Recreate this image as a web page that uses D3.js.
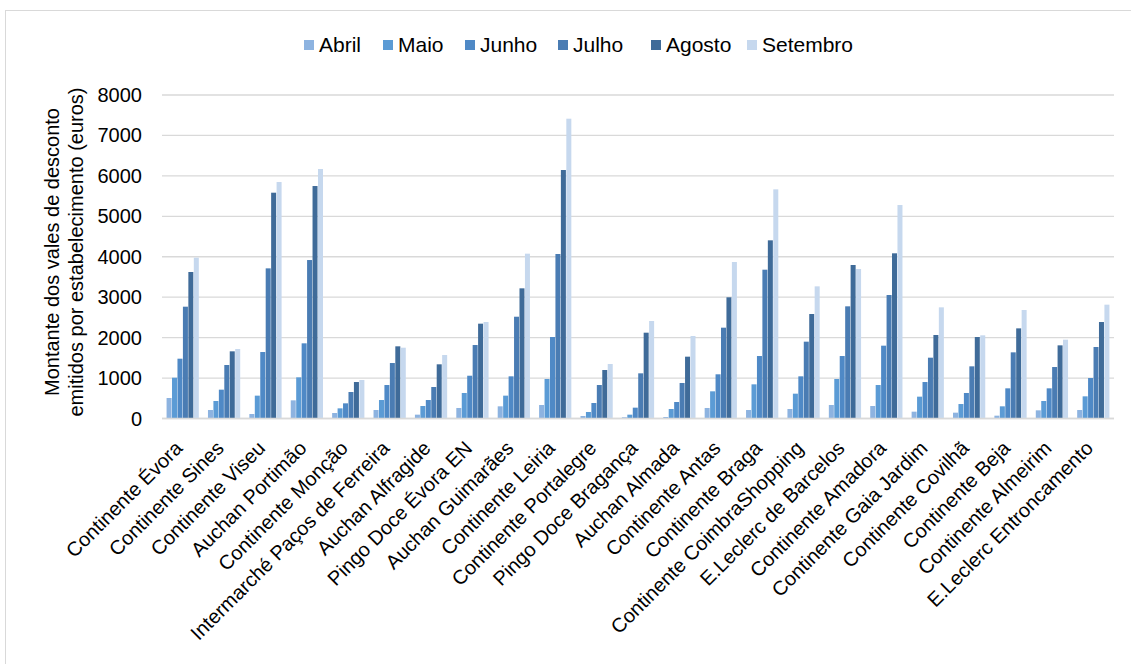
<!DOCTYPE html>
<html lang="pt">
<head>
    <meta charset="UTF-8">
    <title>Vales de desconto</title>
    <style>
        body { margin: 0; background: #fff; }
        svg { font-family: "Liberation Sans", Arial, sans-serif; }
        .grid line { stroke: #d9d9d9; stroke-width: 1.3px; }
        .tick-label { font-size: 20px; fill: #000; }
        .axis-title { font-size: 20px; fill: #000; }
        .cat-label { font-size: 20px; fill: #000; }
        .legend-label { font-size: 21px; fill: #000; }
    </style>
</head>
<body>
    <script src="https://d3js.org/d3.v7.min.js"></script>
    <script>
        const categories = [
            "Continente Évora", "Continente Sines", "Continente Viseu", "Auchan Portimão",
            "Continente Monção", "Intermarché Paços de Ferreira", "Auchan Alfragide",
            "Pingo Doce Évora EN", "Auchan Guimarães", "Continente Leiria",
            "Continente Portalegre", "Pingo Doce Bragança", "Auchan Almada",
            "Continente Antas", "Continente Braga", "Continente CoimbraShopping",
            "E.Leclerc de Barcelos", "Continente Amadora", "Continente Gaia Jardim",
            "Continente Covilhã", "Continente Beja", "Continente Almeirim",
            "E.Leclerc Entroncamento"
        ];
        const months = ["Abril", "Maio", "Junho", "Julho", "Agosto", "Setembro"];
        const colors = ["#8db3e0", "#5b9bd5", "#4f89c6", "#4a7cb3", "#3f6b99", "#c6d8ee"];

        const abril    = [507, 210, 111, 449, 136, 210, 95, 260, 301, 334, 62, 30, 37, 260, 210, 235, 334, 309, 169, 144, 70, 202, 210];
        const maio     = [1009, 433, 565, 1018, 251, 457, 309, 631, 565, 977, 161, 95, 235, 672, 845, 614, 977, 828, 540, 358, 301, 433, 548];
        const junho    = [1479, 713, 1644, 1859, 375, 828, 457, 1058, 1043, 2015, 383, 268, 408, 1093, 1545, 1043, 1545, 1801, 902, 631, 746, 746, 1001];
        const julho    = [2765, 1323, 3713, 3919, 655, 1372, 779, 1817, 2517, 4068, 828, 1117, 878, 2246, 3680, 1900, 2774, 3054, 1504, 1290, 1636, 1273, 1768];
        const agosto   = [3623, 1661, 5584, 5749, 902, 1785, 1340, 2345, 3219, 6145, 1199, 2122, 1529, 2997, 4406, 2584, 3796, 4085, 2065, 2015, 2229, 1809, 2386];
        const setembro = [3977, 1719, 5848, 6170, 952, 1751, 1570, 2386, 4076, 7414, 1348, 2411, 2040, 3870, 5667, 3268, 3697, 5279, 2749, 2057, 2683, 1949, 2815];
        const yTicks = [0, 1000, 2000, 3000, 4000, 5000, 6000, 7000, 8000];

        const series = [abril, maio, junho, julho, agosto, setembro];
        const width = 1131, height = 664;
        const plot = { left: 162, right: 1114, top: 95, bottom: 418.5 };

        const svg = d3.select("body").append("svg")
            .attr("width", width)
            .attr("height", height);

        // chart frame
        svg.append("rect")
            .attr("x", 5.5).attr("y", 10.5)
            .attr("width", 1140).attr("height", 700)
            .attr("fill", "none")
            .attr("stroke", "#d9d9d9");

        const x0 = d3.scaleBand()
            .domain(categories)
            .range([plot.left, plot.right])
            .paddingInner(0.2)
            .paddingOuter(0.1);

        const x1 = d3.scaleBand()
            .domain(months)
            .range([0, x0.bandwidth()])
            .padding(0.08);

        const y = d3.scaleLinear()
            .domain([0, 8000])
            .range([plot.bottom, plot.top]);

        // gridlines
        svg.append("g")
            .attr("class", "grid")
            .selectAll("line")
            .data(yTicks)
            .enter().append("line")
            .attr("x1", plot.left)
            .attr("x2", plot.right)
            .attr("y1", d => y(d))
            .attr("y2", d => y(d));

        // y tick labels
        svg.append("g")
            .selectAll("text")
            .data(yTicks)
            .enter().append("text")
            .attr("class", "tick-label")
            .attr("x", 142)
            .attr("y", d => y(d))
            .attr("dy", "0.35em")
            .attr("text-anchor", "end")
            .text(d => d);

        // y axis title (two lines)
        const yTitle = svg.append("text")
            .attr("transform", "translate(59,252) rotate(-90)")
            .attr("text-anchor", "middle")
            .attr("class", "axis-title");
        yTitle.append("tspan").attr("x", 0).attr("dy", 0).text("Montante dos vales de desconto");
        yTitle.append("tspan").attr("x", 0).attr("dy", 24).text("emitidos por estabelecimento (euros)");

        // bars
        const groups = svg.append("g")
            .selectAll("g")
            .data(categories)
            .enter().append("g")
            .attr("transform", d => `translate(${x0(d)},0)`);

        groups.selectAll("rect")
            .data((c, i) => months.map((m, j) => ({ month: m, value: series[j][i], color: colors[j] })))
            .enter().append("rect")
            .attr("x", d => x1(d.month))
            .attr("width", x1.bandwidth())
            .attr("y", d => y(d.value))
            .attr("height", d => plot.bottom - y(d.value))
            .attr("fill", d => d.color);

        // baseline
        svg.append("line")
            .attr("x1", plot.left).attr("x2", plot.right)
            .attr("y1", plot.bottom).attr("y2", plot.bottom)
            .attr("stroke", "#d9d9d9")
            .attr("stroke-width", 1.3);

        // category labels, rotated 45 degrees
        svg.append("g")
            .selectAll("text")
            .data(categories)
            .enter().append("text")
            .attr("class", "cat-label")
            .attr("text-anchor", "end")
            .attr("transform", d => `translate(${x0(d) + x0.bandwidth() / 2 - 4},${plot.bottom + 26}) rotate(-45)`)
            .attr("dy", "0.35em")
            .text(d => d);

        // legend
        const legendX = [304, 383, 465, 558, 651, 747];
        const legend = svg.append("g")
            .selectAll("g")
            .data(months)
            .enter().append("g")
            .attr("transform", (d, i) => `translate(${legendX[i]},40)`);

        legend.append("rect")
            .attr("width", 10)
            .attr("height", 10)
            .attr("fill", (d, i) => colors[i]);

        legend.append("text")
            .attr("class", "legend-label")
            .attr("x", 15)
            .attr("y", 5)
            .attr("dy", "0.35em")
            .text(d => d);
    </script>
</body>
</html>
